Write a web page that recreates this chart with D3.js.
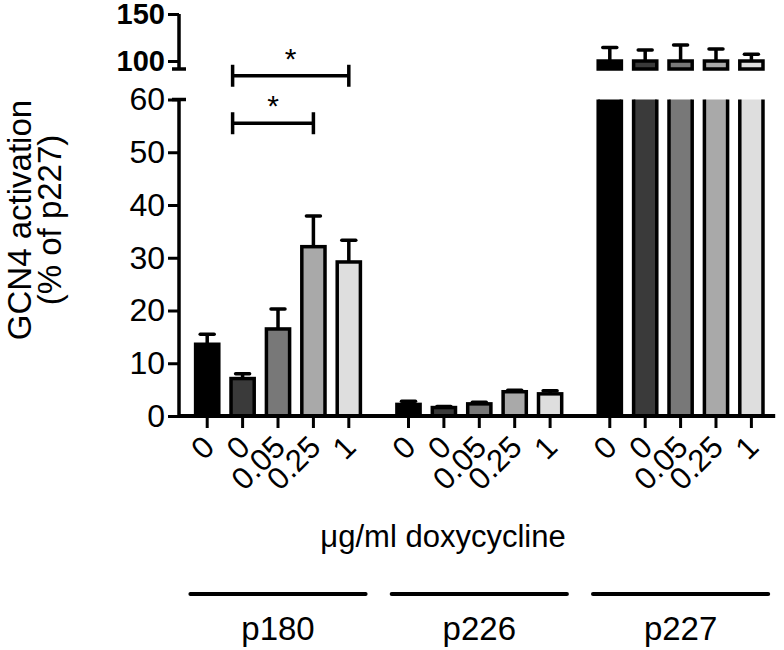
<!DOCTYPE html>
<html><head><meta charset="utf-8">
<script src="https://cdn.jsdelivr.net/npm/d3@7"></script>
<style>body{margin:0;background:#fff}</style>
</head><body><svg id="c" width="784" height="650"></svg>
<script>
const groups = ["p180", "p226", "p227"];
const doses = ["0", "0", "0.05", "0.25", "1"];
const fills = ["#000000", "#3a3a3a", "#787878", "#a9a9a9", "#dedede"];
const p180Mean = [13.6, 7.1, 16.5, 32.1, 29.2];
const p180Err = [1.9, 0.9, 3.8, 5.8, 4.1];
const p226Mean = [2.2, 1.6, 2.3, 4.6, 4.2];
const p226Err = [0.6, 0.2, 0.3, 0.3, 0.6];
const p227Mean = [100, 100, 100, 100, 100];
const p227Err = [14.4, 11.6, 16.9, 12.7, 7.3];
const lowerTicks = [0, 10, 20, 30, 40, 50, 60];
const upperTicks = [100, 150];
const yTitle = ["GCN4 activation", "(% of p227)"];
const xTitle = "\u03bcg/ml doxycycline";
const sigFrom = [1, 1];
const sigTo = [4, 3];
const sigY = [64.5, 55.5];
const sigLabel = ["*", "*"];

const means = [p180Mean, p226Mean, p227Mean];
const errs = [p180Err, p226Err, p227Err];
const data = [];
groups.forEach((g, gi) => doses.forEach((d, i) => data.push({g, i, dose: d, mean: means[gi][i], err: errs[gi][i]})));

const FONT = "'Liberation Sans', Arial, Helvetica, sans-serif";
const svg = d3.select("#c").style("font-family", FONT);
const axisX = 179;

const x0 = d3.scaleBand().domain(groups).range([183.4, 775.2]).paddingInner(0.06).paddingOuter(0);
const x1 = d3.scaleBand().domain(d3.range(5)).range([0, x0.bandwidth()]).padding(0.345);
const yLow = d3.scaleLinear().domain([0, 60]).range([416, 99.5]);
const yUp = d3.scaleLinear().domain([91.5, 150]).range([69, 14]);
const cx = d => x0(d.g) + x1(d.i) + x1.bandwidth() / 2;

const defs = svg.append("defs");
defs.append("clipPath").attr("id", "clipLow").append("rect")
  .attr("x", axisX).attr("y", yLow(60)).attr("width", 784 - axisX).attr("height", yLow(0) - yLow(60));
defs.append("clipPath").attr("id", "clipUp").append("rect")
  .attr("x", axisX).attr("y", 0).attr("width", 784 - axisX).attr("height", yUp(91.5) + 3);

// lower bars
const low = svg.append("g").attr("clip-path", "url(#clipLow)");
low.selectAll("rect").data(data).join("rect")
  .attr("x", d => x0(d.g) + x1(d.i)).attr("width", x1.bandwidth())
  .attr("y", d => yLow(d.mean)).attr("height", d => yLow(0) - yLow(d.mean))
  .attr("fill", d => fills[d.i]).attr("stroke", "#000").attr("stroke-width", 3.5);
const lowErr = data.filter(d => d.mean + d.err <= 60);
low.selectAll("line.err").data(lowErr).join("line").attr("class", "err")
  .attr("x1", cx).attr("x2", cx).attr("y1", d => yLow(d.mean)).attr("y2", d => yLow(d.mean + d.err))
  .attr("stroke", "#000").attr("stroke-width", 3.5);
low.selectAll("line.cap").data(lowErr).join("line").attr("class", "cap")
  .attr("x1", d => cx(d) - 7).attr("x2", d => cx(d) + 7).attr("y1", d => yLow(d.mean + d.err)).attr("y2", d => yLow(d.mean + d.err))
  .attr("stroke", "#000").attr("stroke-width", 3.5).attr("stroke-linecap", "round");

// upper bars
const upData = data.filter(d => d.mean > 91.5);
const up = svg.append("g").attr("clip-path", "url(#clipUp)");
up.selectAll("rect").data(upData).join("rect")
  .attr("x", d => x0(d.g) + x1(d.i)).attr("width", x1.bandwidth())
  .attr("y", d => yUp(d.mean)).attr("height", d => yUp(91.5) - yUp(d.mean))
  .attr("fill", d => fills[d.i]).attr("stroke", "#000").attr("stroke-width", 3.5);
up.selectAll("line.err").data(upData).join("line").attr("class", "err")
  .attr("x1", cx).attr("x2", cx).attr("y1", d => yUp(d.mean)).attr("y2", d => yUp(d.mean + d.err))
  .attr("stroke", "#000").attr("stroke-width", 3.5);
up.selectAll("line.cap").data(upData).join("line").attr("class", "cap")
  .attr("x1", d => cx(d) - 7).attr("x2", d => cx(d) + 7).attr("y1", d => yUp(d.mean + d.err)).attr("y2", d => yUp(d.mean + d.err))
  .attr("stroke", "#000").attr("stroke-width", 3.5).attr("stroke-linecap", "round");

// y axes
function styleAxis(g, size, weight) {
  g.selectAll("path.domain").attr("stroke-width", 3.5);
  g.selectAll(".tick line").attr("stroke-width", 3);
  g.selectAll(".tick text").style("font-size", size + "px").style("font-weight", weight).attr("x", -14).attr("fill", "#000");
}
svg.append("g").attr("transform", `translate(${axisX},0)`)
  .call(d3.axisLeft(yLow).tickValues(lowerTicks).tickSize(11).tickSizeOuter(0))
  .call(g => styleAxis(g, 32, "normal"))
  .call(g => g.select(".domain").attr("d", `M0,${yLow(0) + 2}V${yLow(60)}`));
svg.append("g").attr("transform", `translate(${axisX},0)`)
  .call(d3.axisLeft(yUp).tickValues(upperTicks).tickSize(11).tickSizeOuter(0))
  .call(g => styleAxis(g, 29, "bold"))
  .call(g => g.select(".domain").attr("d", `M0,${yUp(150)}V${yUp(91.5)}`));
// break caps
[yUp(91.5), yLow(60)].forEach(yv => svg.append("line")
  .attr("x1", axisX - 7).attr("x2", axisX + 7).attr("y1", yv).attr("y2", yv)
  .attr("stroke", "#000").attr("stroke-width", 3.5));

// x axis line
svg.append("line").attr("x1", axisX).attr("x2", x0.range()[1]).attr("y1", yLow(0)).attr("y2", yLow(0))
  .attr("stroke", "#000").attr("stroke-width", 4);
groups.forEach(g => {
  const ax = svg.append("g").attr("transform", `translate(${x0(g)},${yLow(0)})`)
    .call(d3.axisBottom(x1).tickSize(12).tickSizeOuter(0).tickFormat(i => doses[i]));
  ax.select(".domain").remove();
  ax.selectAll(".tick line").attr("stroke-width", 3);
  ax.selectAll(".tick text").attr("x", 0).attr("y", 0).attr("dy", 0)
    .attr("transform", "translate(9,33) rotate(-45)")
    .style("text-anchor", "end").style("font-size", "31px").attr("fill", "#000");
});

// significance brackets
sigFrom.forEach((f, k) => {
  const xa = x0("p180") + x1(f) + x1.bandwidth() / 2 - 10;
  const xb = x0("p180") + x1(sigTo[k]) + x1.bandwidth() / 2;
  const yy = yLow(sigY[k]);
  const gS = svg.append("g").attr("stroke", "#000").attr("stroke-width", 3.5);
  gS.append("line").attr("x1", xa).attr("x2", xb).attr("y1", yy).attr("y2", yy);
  gS.append("line").attr("x1", xa).attr("x2", xa).attr("y1", yy - 11).attr("y2", yy + 11);
  gS.append("line").attr("x1", xb).attr("x2", xb).attr("y1", yy - 11).attr("y2", yy + 11);
  svg.append("text").attr("x", (xa + xb) / 2).attr("y", yy - 7).attr("text-anchor", "middle")
    .style("font-size", "30px").text(sigLabel[k]);
});

// y title
yTitle.forEach((t, k) => svg.append("text")
  .attr("transform", `translate(${31 + k * 30},220) rotate(-90)`)
  .attr("text-anchor", "middle").style("font-size", "33px").text(t));

// x title
svg.append("text").attr("x", 443).attr("y", 547).attr("text-anchor", "middle")
  .style("font-size", "31px").text(xTitle);

// group lines and labels
groups.forEach(g => {
  svg.append("line").attr("x1", x0(g) + 7).attr("x2", x0(g) + x0.bandwidth() - 7)
    .attr("y1", 594).attr("y2", 594).attr("stroke", "#000").attr("stroke-width", 4).attr("stroke-linecap", "round");
  svg.append("text").attr("x", x0(g) + x0.bandwidth() / 2).attr("y", 640).attr("text-anchor", "middle")
    .style("font-size", "33px").text(g);
});
</script></body></html>
